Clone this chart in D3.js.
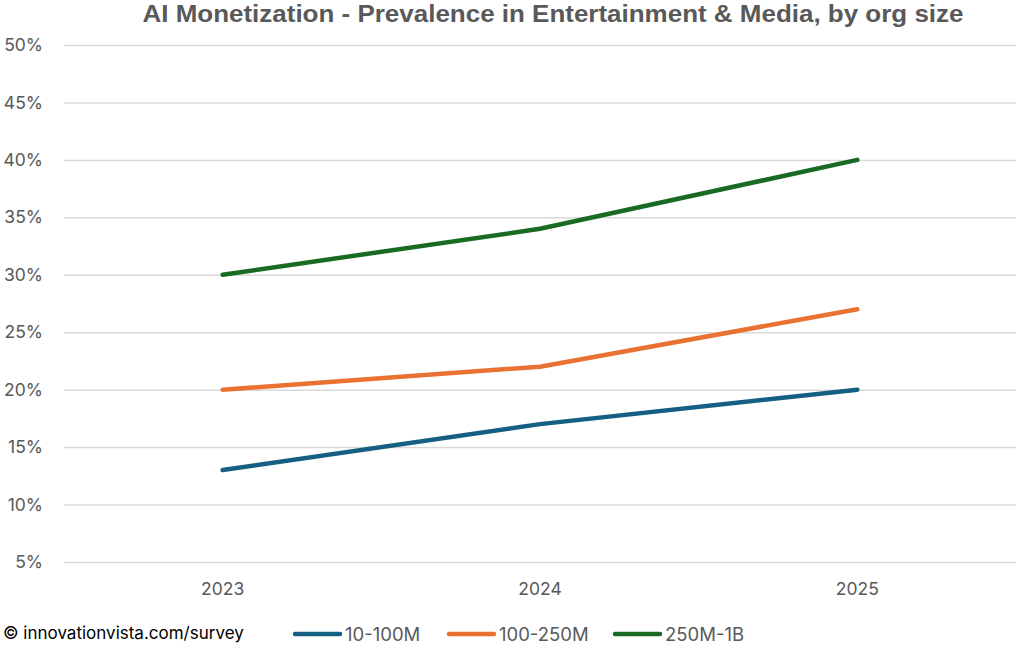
<!DOCTYPE html>
<html><head><meta charset="utf-8">
<script src="https://cdn.jsdelivr.net/npm/d3@7"></script>
<style>body{margin:0;background:#fff}svg{display:block}</style>
</head><body><svg id="c" width="1024" height="652"></svg>
<script>
const years = ["2023","2024","2025"];
const s10_100M = [0.13,0.17,0.20];
const s100_250M = [0.20,0.22,0.27];
const s250M_1B = [0.30,0.34,0.40];
const seriesNames = ["10-100M","100-250M","250M-1B"];
const seriesColors = ["#156082","#E97132","#196B24"];
const yTicks = [0.05,0.10,0.15,0.20,0.25,0.30,0.35,0.40,0.45,0.50];
const title = "AI Monetization - Prevalence in Entertainment & Media, by org size";
const footer = "© innovationvista.com/survey";

const series = [s10_100M, s100_250M, s250M_1B];
const svg = d3.select("#c");
const x = d3.scaleBand().domain(years).range([64,1016]);
const y = d3.scaleLinear().domain([0.05,0.50]).range([562,45]);
const gray = "#595959";
const font = "Inter,'Liberation Sans',Arial,sans-serif";

svg.append("text").attr("x",553).attr("y",22).attr("text-anchor","middle")
  .attr("font-family","'Liberation Sans Narrow','Liberation Sans',Arial,sans-serif")
  .attr("font-weight","bold").attr("font-size",23).attr("fill",gray)
  .attr("textLength",821).attr("lengthAdjust","spacingAndGlyphs").text(title);

const yAxis = svg.append("g").attr("transform","translate(64,0)")
  .call(d3.axisLeft(y).tickValues(yTicks).tickFormat(d3.format(".0%")).tickSize(-952).tickPadding(21));
yAxis.select(".domain").remove();
yAxis.selectAll("line").attr("stroke","#d9d9d9").attr("stroke-width",1.5);
yAxis.selectAll("text").attr("fill",gray).attr("font-size",17.5).attr("font-family",font);

const xAxis = svg.append("g").attr("transform","translate(0,562)")
  .call(d3.axisBottom(x).tickSize(0).tickPadding(21));
xAxis.select(".domain").remove();
xAxis.selectAll("text").attr("fill",gray).attr("font-size",17.5).attr("font-family",font);

const line = d3.line().x((d,i)=>x(years[i])+x.bandwidth()/2).y(d=>y(d));
series.forEach((s,k)=>{
  svg.append("path").datum(s).attr("d",line).attr("fill","none")
    .attr("stroke",seriesColors[k]).attr("stroke-width",4.5)
    .attr("stroke-linecap","round").attr("stroke-linejoin","round");
});

svg.append("text").attr("x",3).attr("y",639).attr("font-size",17)
  .attr("font-family",font).attr("fill","#000").text(footer);

const legX = [295,449,615];
const leg = svg.append("g");
seriesNames.forEach((n,k)=>{
  leg.append("line").attr("x1",legX[k]).attr("x2",legX[k]+45).attr("y1",634).attr("y2",634)
    .attr("stroke",seriesColors[k]).attr("stroke-width",4.5).attr("stroke-linecap","round");
  leg.append("text").attr("x",legX[k]+50).attr("y",640.5).attr("font-size",18.5)
    .attr("font-family",font).attr("fill",gray).text(n);
});
</script></body></html>
